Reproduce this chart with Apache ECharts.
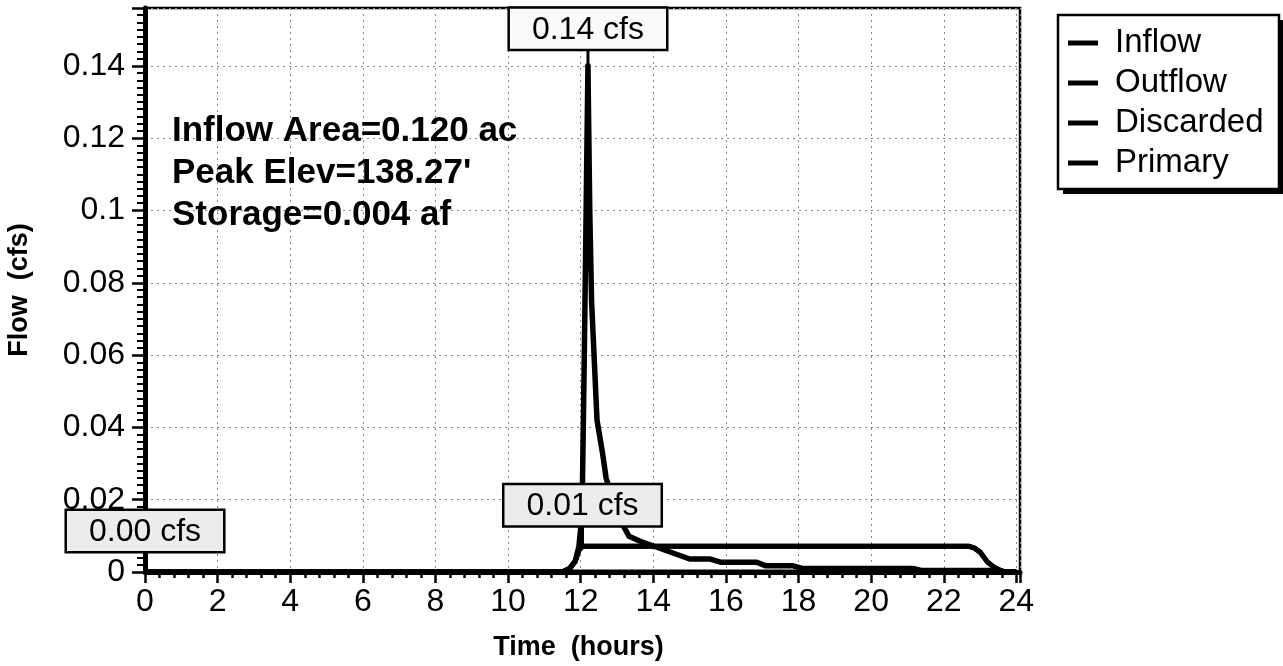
<!DOCTYPE html>
<html>
<head>
<meta charset="utf-8">
<script src="https://cdn.jsdelivr.net/npm/echarts@6/dist/echarts.min.js"></script>
<style>
    html, body { margin: 0; padding: 0; background: #fff; }
    #chart { width: 1283px; height: 666px; }
</style>
</head>
<body>
<div id="chart"></div>
<script>
    var seriesNames = ['Inflow', 'Outflow', 'Discarded', 'Primary'];

    // hydrograph (hours, cfs)
    var inflowTime = [0, 11.5, 11.7, 11.85, 11.95, 12.0, 12.05, 12.1, 12.15, 12.2, 12.25, 12.3, 12.45, 12.6, 12.7, 13.0, 13.33, 13.64, 15.0, 15.55, 15.85, 16.85, 17.1, 17.85, 18.1, 21.15, 21.4, 23.4, 23.6, 24];
    var inflowFlow = [0, 0, 0.001, 0.003, 0.007, 0.012, 0.025, 0.06, 0.1, 0.14, 0.1, 0.075, 0.042, 0.033, 0.026, 0.016, 0.0099, 0.0085, 0.0036, 0.0036, 0.0027, 0.0027, 0.0017, 0.0017, 0.001, 0.001, 0.0004, 0.0004, 0, 0];

    var outflowTime = [0, 11.5, 11.7, 11.85, 11.95, 12.05, 22.7, 22.85, 23.0, 23.2, 23.37, 23.55, 23.7, 24];
    var outflowFlow = [0, 0, 0.001, 0.003, 0.006, 0.0071, 0.0071, 0.0066, 0.0055, 0.0028, 0.0014, 0.0005, 0, 0];

    // everything goes to discarded, primary stays at zero
    var discardedTime = outflowTime;
    var discardedFlow = outflowFlow;
    var primaryTime = [0, 24];
    var primaryFlow = [0, 0];

    var peakLabels = ['0.14 cfs', '0.01 cfs', '0.00 cfs'];
    var infoLines = ['Inflow Area=0.120 ac', 'Peak Elev=138.27\'', 'Storage=0.004 af'];

    var FONT = '"Liberation Sans", Arial, sans-serif';

    function pairs(t, v) {
        var res = [];
        for (var i = 0; i < t.length; i++) {
            res.push([t[i], v[i]]);
        }
        return res;
    }

    function peakMark(coord, text, lead, bg) {
        return {
            coord: coord,
            symbol: 'rect',
            symbolSize: [3, lead],
            symbolOffset: [0, -lead / 2],
            itemStyle: { color: '#000' },
            label: {
                show: true,
                position: 'top',
                distance: 0,
                formatter: text,
                color: '#000',
                fontFamily: FONT,
                fontSize: 32,
                backgroundColor: bg,
                borderColor: '#000',
                borderWidth: 2.5,
                padding: [5, 22, 3, 22]
            }
        };
    }

    function lineSeries(name, data, width, z) {
        return {
            name: name,
            type: 'line',
            data: data,
            showSymbol: false,
            symbol: 'none',
            animation: false,
            z: z,
            lineStyle: { color: '#000', width: width, join: 'round' },
            itemStyle: { color: '#000' }
        };
    }

    var inflow = lineSeries('Inflow', pairs(inflowTime, inflowFlow), 5.5, 5);
    inflow.markPoint = { z: 20, animation: false, data: [peakMark([12.2, 0.14], peakLabels[0], 17, '#fafafa')] };

    var outflow = lineSeries('Outflow', pairs(outflowTime, outflowFlow), 5, 4);
    outflow.markPoint = { z: 20, animation: false, data: [peakMark([12.05, 0.0071], peakLabels[1], 21, '#ececec')] };

    var discarded = lineSeries('Discarded', pairs(discardedTime, discardedFlow), 5, 3);

    var primary = lineSeries('Primary', pairs(primaryTime, primaryFlow), 5, 3);
    primary.markPoint = { z: 20, animation: false, data: [peakMark([0, 0], peakLabels[2], 21, '#ececec')] };

    var option = {
        backgroundColor: '#fff',
        animation: false,
        textStyle: { fontFamily: FONT },
        title: {
            text: infoLines.join('\n'),
            left: 172,
            top: 110,
            padding: 0,
            textStyle: {
                fontFamily: FONT,
                fontSize: 35,
                fontWeight: 'bold',
                color: '#000',
                lineHeight: 42
            }
        },
        // legend frame with its drop shadow
        graphic: [
            { type: 'rect', z: 0, shape: { x: 1063, y: 20, width: 221, height: 174 }, style: { fill: '#000' } },
            { type: 'rect', z: 1, shape: { x: 1058, y: 15, width: 221, height: 174 }, style: { fill: '#fff', stroke: '#000', lineWidth: 2.5 } }
        ],
        legend: {
            data: seriesNames,
            orient: 'vertical',
            left: 1058,
            top: 15,
            z: 5,
            icon: 'rect',
            itemWidth: 30,
            itemHeight: 5,
            itemGap: 4,
            padding: [10, 4, 8, 10],
            textStyle: {
                fontFamily: FONT,
                fontSize: 33,
                color: '#000',
                lineHeight: 36,
                padding: [0, 0, 0, 12]
            }
        },
        grid: {
            left: 145,
            right: 263,
            top: 8,
            bottom: 94,
            outerBoundsMode: 'none',
            show: true,
            borderColor: '#000',
            borderWidth: 2.5
        },
        xAxis: {
            type: 'value',
            min: 0,
            max: 24.1,
            interval: 2,
            name: 'Time  (hours)',
            nameLocation: 'middle',
            nameGap: 62,
            nameTextStyle: { fontFamily: FONT, fontSize: 27, fontWeight: 'bold', color: '#000', padding: [0, 8, 0, 0] },
            axisLine: { show: true, lineStyle: { color: '#000', width: 5 } },
            axisTick: { show: true, length: 11, lineStyle: { color: '#000', width: 2.5 } },
            minorTick: { show: true, splitNumber: 5, length: 6, lineStyle: { color: '#000', width: 2.5 } },
            axisLabel: { showMaxLabel: false, margin: 14, fontFamily: FONT, fontSize: 32, color: '#000' },
            splitLine: { show: true, lineStyle: { color: '#888', type: [2, 4], width: 1 } }
        },
        yAxis: {
            type: 'value',
            min: 0,
            max: 0.156,
            interval: 0.02,
            name: 'Flow  (cfs)',
            nameLocation: 'middle',
            nameGap: 112,
            nameRotate: 90,
            nameTextStyle: { fontFamily: FONT, fontSize: 27, fontWeight: 'bold', color: '#000' },
            axisLine: { show: true, lineStyle: { color: '#000', width: 5 } },
            axisTick: { show: true, length: 13, lineStyle: { color: '#000', width: 2.5 } },
            minorTick: { show: true, splitNumber: 10, length: 8, lineStyle: { color: '#000', width: 2 } },
            axisLabel: { showMaxLabel: false, margin: 20, fontFamily: FONT, fontSize: 32, color: '#000' },
            splitLine: { show: true, lineStyle: { color: '#888', type: [2, 4], width: 1 } }
        },
        series: [inflow, outflow, discarded, primary]
    };

    var chart = echarts.init(document.getElementById('chart'));
    chart.setOption(option);
</script>
</body>
</html>
